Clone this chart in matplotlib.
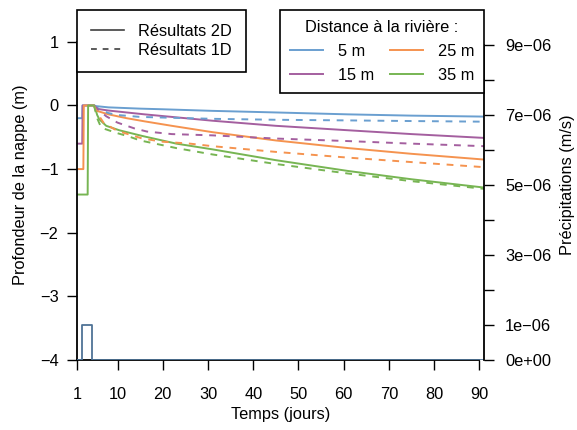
import matplotlib
matplotlib.use('Agg')
import matplotlib.pyplot as plt
from matplotlib.lines import Line2D

plt.rcParams['font.family'] = ['Liberation Sans', 'DejaVu Sans']
plt.rcParams['font.size'] = 11.8

distances = ['5 m', '15 m', '25 m', '35 m']
colors = ['#6a9fd0', '#a45f9f', '#f5934f', '#77b553']

# 2D results (solid), water table depth (m) vs time (days)
days_2d_5 = [1, 2.2, 2.25, 4.8, 5.2, 8, 15, 20, 31, 45, 61, 75, 91]
depth_2d_5 = [-0.2, -0.2, 0, 0, -0.01, -0.03, -0.05, -0.06, -0.085, -0.11, -0.14, -0.16, -0.175]
days_2d_15 = [1, 2.2, 2.3, 4.8, 5.2, 8, 12, 16, 22, 31, 45, 61, 75, 91]
depth_2d_15 = [-0.6, -0.6, 0, 0, -0.05, -0.08, -0.11, -0.14, -0.18, -0.24, -0.32, -0.39, -0.45, -0.51]
days_2d_25 = [1, 2.45, 2.55, 4.8, 5.2, 8, 12, 16, 22, 31, 45, 61, 75, 91]
depth_2d_25 = [-1.0, -1.0, 0, 0, -0.08, -0.14, -0.20, -0.25, -0.32, -0.42, -0.55, -0.67, -0.76, -0.85]
days_2d_35 = [1, 3.4, 3.5, 4.9, 5.5, 6, 7.5, 10.4, 15.5, 23, 31, 45, 61, 75, 91]
depth_2d_35 = [-1.4, -1.4, 0, 0, -0.15, -0.22, -0.32, -0.39, -0.48, -0.60, -0.69, -0.86, -1.03, -1.16, -1.29]

# 1D results (dashed)
days_1d_5 = [4.8, 6, 8, 10, 15, 20, 31, 45, 61, 75, 91]
depth_1d_5 = [0, -0.06, -0.12, -0.15, -0.18, -0.19, -0.21, -0.225, -0.235, -0.245, -0.255]
days_1d_15 = [4.8, 6, 7.5, 10, 13.7, 16.5, 22, 31, 45, 61, 75, 91]
depth_1d_15 = [0, -0.08, -0.17, -0.27, -0.36, -0.41, -0.45, -0.47, -0.52, -0.56, -0.60, -0.64]
days_1d_25 = [4.8, 5.5, 7, 10, 15.5, 20, 26, 31, 45, 61, 75, 91]
depth_1d_25 = [0, -0.12, -0.28, -0.40, -0.52, -0.57, -0.60, -0.64, -0.73, -0.82, -0.89, -0.97]
days_1d_35 = [4.8, 5.5, 6.4, 9.7, 12.6, 15, 23, 31, 45, 61, 75, 91]
depth_1d_35 = [0, -0.2, -0.35, -0.43, -0.49, -0.55, -0.67, -0.77, -0.92, -1.07, -1.19, -1.31]

# precipitation (m/s)
rain_days = [1, 2.1, 4.45, 91]
rain = [0, 1e-6, 0, 0]

x_ticks = [1, 10, 20, 30, 40, 50, 60, 70, 80, 90]
y_ticks = [-4, -3, -2, -1, 0, 1]
rain_ticks = [0, 1e-6, 2e-6, 3e-6, 4e-6, 5e-6, 6e-6, 7e-6, 8e-6, 9e-6]
rain_tick_labels = ['0e+00', '1e\u221206', '', '3e\u221206', '', '5e\u221206',
                    '', '7e\u221206', '', '9e\u221206']

series_2d = [(days_2d_5, depth_2d_5), (days_2d_15, depth_2d_15),
             (days_2d_25, depth_2d_25), (days_2d_35, depth_2d_35)]
series_1d = [(days_1d_5, depth_1d_5), (days_1d_15, depth_1d_15),
             (days_1d_25, depth_1d_25), (days_1d_35, depth_1d_35)]

fig = plt.figure(figsize=(5.77, 4.30), dpi=100)
ax = fig.add_axes([76.8 / 577, 70 / 430, 407.2 / 577, 350 / 430])
ax2 = ax.twinx()

for (d, v), c in zip(series_2d, colors):
    ax.plot(d, v, color=c, lw=1.4, solid_joinstyle='round')
for (d, v), c in zip(series_1d, colors):
    ax.plot(d, v, color=c, lw=1.4, linestyle=(0, (3.5, 3.5)))

ax2.plot(rain_days, rain, drawstyle='steps-post', color='#4f7396', lw=1.3)

ax.set_xlim(1, 91)
ax.set_ylim(-4, 1.5)
ax2.set_ylim(0, 1e-5)

ax.set_xticks(x_ticks)
ax.set_yticks(y_ticks)
ax2.set_yticks(rain_ticks)
ax2.set_yticklabels(rain_tick_labels)

# R style axes: lines only between first and last tick
for a in (ax, ax2):
    a.spines['top'].set_visible(False)
    for s in a.spines.values():
        s.set_linewidth(1.3)
ax.spines['right'].set_visible(False)
ax2.spines['left'].set_visible(False)
ax2.spines['bottom'].set_visible(False)
ax.spines['left'].set_bounds(-4, 1)
ax.spines['bottom'].set_bounds(1, 90)
ax2.spines['right'].set_bounds(0, 9e-6)

ax.tick_params(axis='both', direction='out', length=7.2, width=1)
ax.tick_params(axis='y', pad=6)
ax.tick_params(axis='x', pad=12)
ax2.tick_params(axis='y', direction='out', length=7.2, width=1, pad=8)

ax.set_xlabel('Temps (jours)', labelpad=4)
ax.set_ylabel('Profondeur de la nappe (m)', va='center')
ax.yaxis.set_label_coords(-0.138, 0.5)
ax2.set_ylabel('Précipitations (m/s)', rotation=90, va='center')
ax2.yaxis.set_label_coords(1.205, 0.5)

# legends
type_handles = [Line2D([], [], color='#404040', lw=1.2),
                Line2D([], [], color='#404040', lw=1.2, linestyle=(0, (3.5, 3.5)))]
leg1 = ax2.legend(type_handles, ['Résultats 2D', 'Résultats 1D'], loc='upper left',
                  bbox_to_anchor=(0, 1), borderaxespad=0, fancybox=False,
                  edgecolor='black', framealpha=1, handlelength=2.0,
                  handletextpad=0.9, borderpad=0.85, labelspacing=0.25)
leg1.get_frame().set_linewidth(1.2)
ax2.add_artist(leg1)

dist_handles = [Line2D([], [], color=c, lw=1.4) for c in colors]
leg2 = ax2.legend(dist_handles, distances, loc='upper right', ncol=2,
                  title='Distance à la rivière :', bbox_to_anchor=(1, 1),
                  borderaxespad=0, fancybox=False, edgecolor='black',
                  framealpha=1, handlelength=2.0, handletextpad=0.9,
                  columnspacing=1.0, borderpad=0.6, labelspacing=0.55)
leg2.get_frame().set_linewidth(1.2)
leg2.get_title().set_fontsize(11.8)

fig.savefig('out.png', dpi=100)
